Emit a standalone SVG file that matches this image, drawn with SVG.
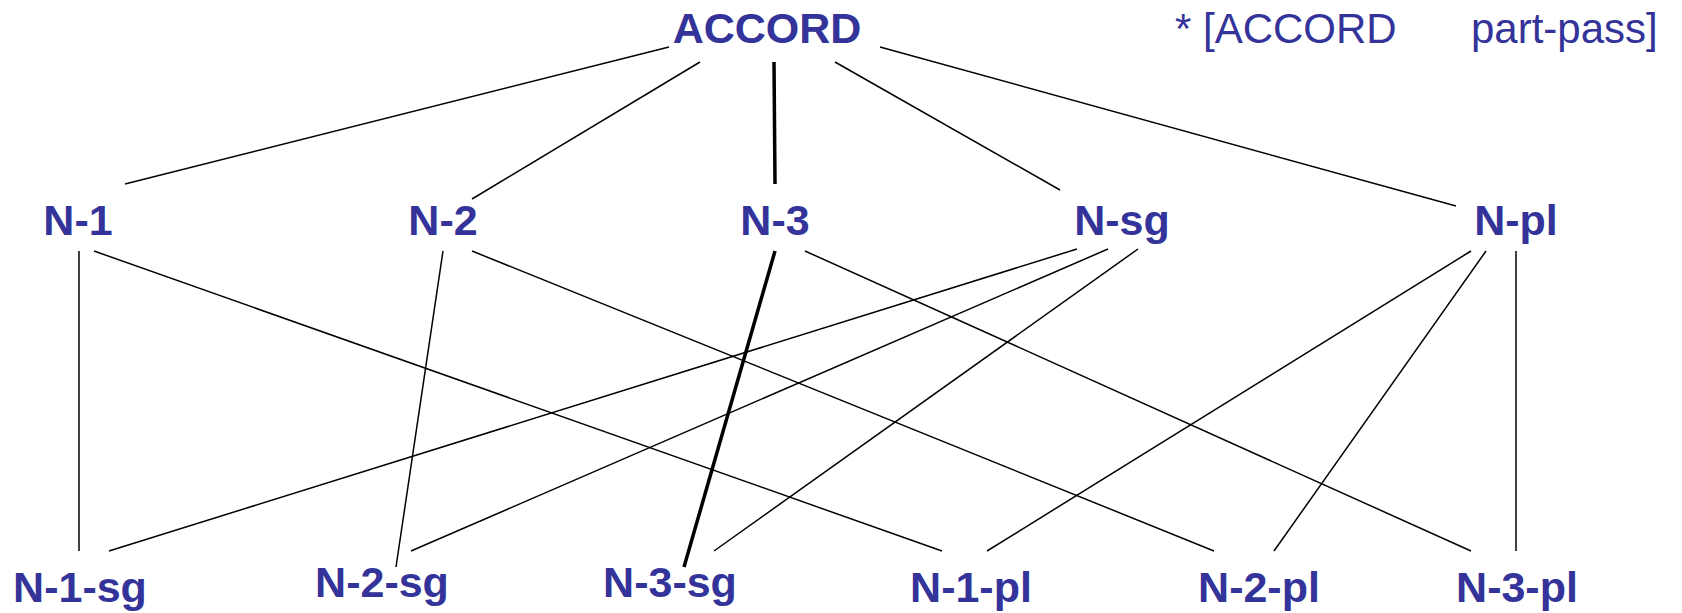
<svg xmlns="http://www.w3.org/2000/svg" width="1682" height="613" viewBox="0 0 1682 613">
<style>
.lbl{font-family:"Liberation Sans",Arial,sans-serif;font-weight:bold;font-size:43px;fill:#333399;text-anchor:middle}
.note{font-family:"Liberation Sans",Arial,sans-serif;font-size:42px;fill:#333399}
.e{stroke:#000;stroke-width:1.5;fill:none}
.t{stroke:#000;stroke-width:3.5;fill:none}
</style>
<rect width="1682" height="613" fill="#fff"/>
<g id="connectors">
<line class="e" x1="669" y1="47" x2="125" y2="184"/>
<line class="e" x1="700" y1="62" x2="472" y2="199"/>
<line class="t" x1="774" y1="62" x2="775" y2="184"/>
<line class="e" x1="835" y1="62" x2="1060" y2="190"/>
<line class="e" x1="880" y1="47" x2="1456" y2="206"/>
<line class="e" x1="79" y1="251" x2="79" y2="551"/>
<line class="e" x1="94" y1="251" x2="942" y2="551"/>
<line class="e" x1="443" y1="251" x2="396" y2="567"/>
<line class="e" x1="472" y1="251" x2="1214" y2="551"/>
<line class="t" x1="775" y1="251" x2="684" y2="567"/>
<line class="e" x1="805" y1="251" x2="1471" y2="551"/>
<line class="e" x1="1077" y1="249" x2="109" y2="551"/>
<line class="e" x1="1108" y1="249" x2="411" y2="551"/>
<line class="e" x1="1138" y1="249" x2="714" y2="551"/>
<line class="e" x1="1471" y1="251" x2="987" y2="551"/>
<line class="e" x1="1486" y1="251" x2="1274" y2="551"/>
<line class="e" x1="1516" y1="251" x2="1516" y2="551"/>
</g>
<g id="accord"><text class="lbl" x="767" y="43">ACCORD</text></g>
<g id="note"><text class="note" y="43"><tspan x="1175">* [ACCORD</tspan><tspan x="1471">part-pass]</tspan></text></g>
<g id="n1"><text class="lbl" x="78" y="235">N-1</text></g>
<g id="n2"><text class="lbl" x="443" y="235">N-2</text></g>
<g id="n3"><text class="lbl" x="775" y="235">N-3</text></g>
<g id="nsg"><text class="lbl" x="1122" y="235">N-sg</text></g>
<g id="npl"><text class="lbl" x="1516" y="235">N-pl</text></g>
<g id="n1sg"><text class="lbl" x="80" y="602">N-1-sg</text></g>
<g id="n2sg"><text class="lbl" x="382" y="597">N-2-sg</text></g>
<g id="n3sg"><text class="lbl" x="670" y="597">N-3-sg</text></g>
<g id="n1pl"><text class="lbl" x="971" y="602">N-1-pl</text></g>
<g id="n2pl"><text class="lbl" x="1259" y="602">N-2-pl</text></g>
<g id="n3pl"><text class="lbl" x="1517" y="602">N-3-pl</text></g>
</svg>
